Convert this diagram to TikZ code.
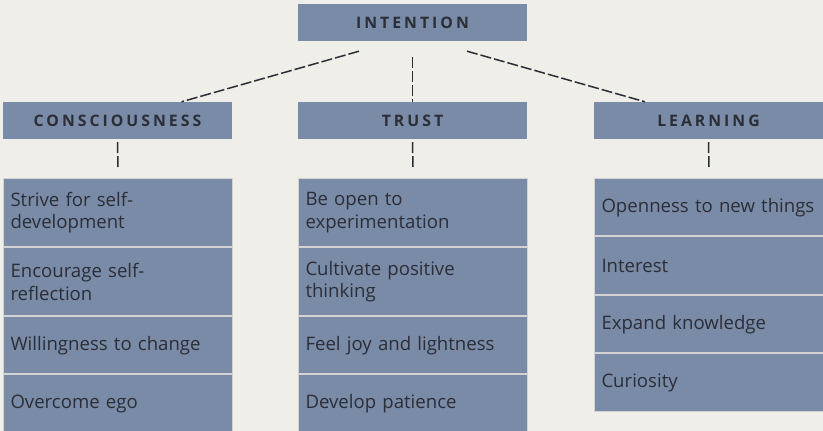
\documentclass[tikz,border=0pt]{standalone}
\usepackage{fontspec}
\setmainfont{Open Sans}
\newfontfamily\hdrfont[LetterSpace=19]{Open Sans Bold}
\usetikzlibrary{calc}
\definecolor{bg}{HTML}{EFEEE8}
\definecolor{boxc}{HTML}{7A8BA8}
\definecolor{ink}{HTML}{2B2E36}
\definecolor{cellline}{HTML}{D3D3D3}
\begin{document}
\begin{tikzpicture}[x=1pt,y=1pt,
  hdr/.style={fill=boxc,draw=none,minimum width=229pt,minimum height=37pt,inner sep=0pt,
     font=\hdrfont\fontsize{15.8}{18}\selectfont,text=ink},
  cell/.style={fill=boxc,draw=cellline,line width=1pt,text width=215pt,inner xsep=7pt,inner ysep=0pt,
     align=left,font=\fontsize{18.6}{22.5}\selectfont,text=ink,anchor=north west},
  link/.style={draw=ink,line width=1.5pt,dash pattern=on 11pt off 3pt}]
\fill[bg] (0,0) rectangle (823,431);
\useasboundingbox (0,0) rectangle (823,431);
% headers
\node[hdr] (int) at (412.5,408.5) {INTENTION};
\node[hdr] (con) at (117.5,310.5) {CONSCIOUSNESS};
\node[hdr] (tru) at (412.5,310.5) {TRUST};
\node[hdr] (lea) at (708.5,310.5) {LEARNING};
% left column
\node[cell,minimum height=68.5pt] (c1) at (3,253) {Strive for self-\\development};
\node[cell,minimum height=67.5pt] (c2) at (c1.south west) {Encourage self-\\reflection};
\node[cell,minimum height=57.5pt] (c3) at (c2.south west) {Willingness to change};
\node[cell,minimum height=57.5pt] (c4) at (c3.south west) {Overcome ego};
% middle column
\node[cell,minimum height=68.5pt] (t1) at (298,253) {Be open to\\experimentation};
\node[cell,minimum height=67.5pt] (t2) at (t1.south west) {Cultivate positive\\thinking};
\node[cell,minimum height=57.5pt] (t3) at (t2.south west) {Feel joy and lightness};
\node[cell,minimum height=57.5pt] (t4) at (t3.south west) {Develop patience};
% right column
\node[cell,minimum height=57.5pt] (l1) at (594,253) {Openness to new things};
\node[cell,minimum height=57.5pt] (l2) at (l1.south west) {Interest};
\node[cell,minimum height=57.5pt] (l3) at (l2.south west) {Expand knowledge};
\node[cell,minimum height=57.5pt] (l4) at (l3.south west) {Curiosity};
% connector end points
\coordinate (iL) at ($(int.south)+(-53.5,-10)$);
\coordinate (iM) at ($(int.south)+(0,-16)$);
\coordinate (iR) at ($(int.south)+(54.5,-10)$);
\coordinate (cT) at ($(con.north)+(64,0)$);
\coordinate (lT) at ($(lea.north)+(-63.5,0)$);
\draw[link] (iL) -- (cT);
\draw[link] (iM) -- (tru.north);
\draw[link] (iR) -- (lT);
\draw[link] ($(con.south)+(0,-3)$) coordinate (cb) -- ($(c1.north)+(0,11)$) coordinate (ce);
\draw[link] ($(tru.south)+(0,-3)$) coordinate (tb) -- ($(t1.north)+(0,11)$) coordinate (te);
\draw[link] ($(lea.south)+(0,-3)$) coordinate (lb) -- ($(l1.north)+(0,11)$) coordinate (le);
\end{tikzpicture}
\end{document}
